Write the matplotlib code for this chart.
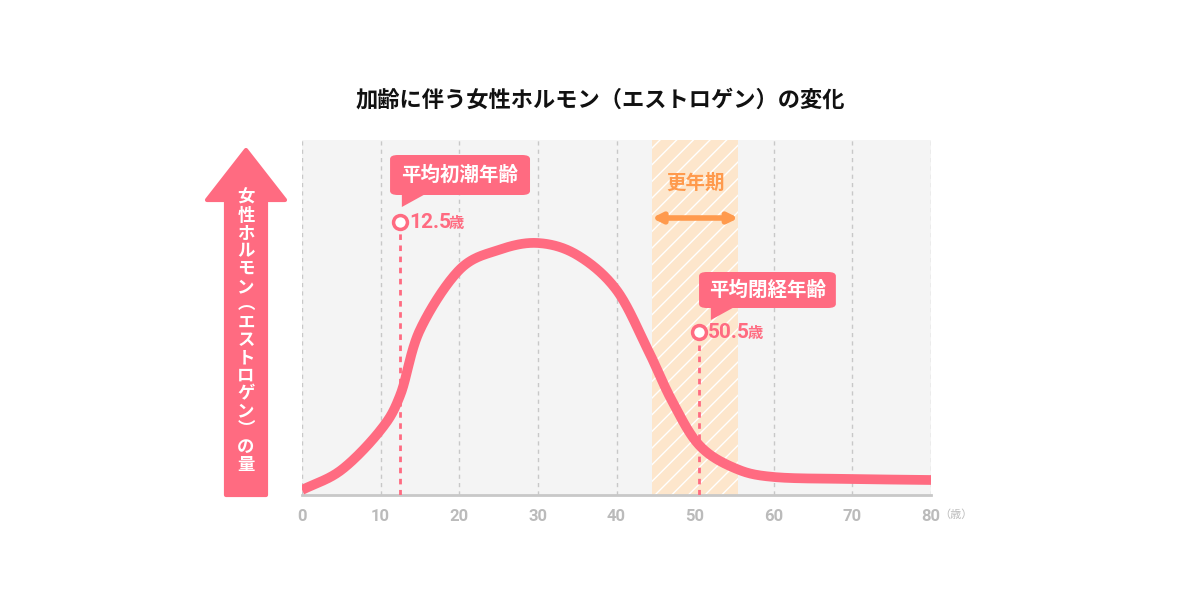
import matplotlib
matplotlib.use("Agg")
import matplotlib.pyplot as plt
import numpy as np
from matplotlib.patches import FancyArrow, FancyBboxPatch, Polygon

plt.rcParams["font.family"] = "Noto Sans CJK JP"

ages = [0, 5, 10, 12.5, 15, 20, 25, 30, 35, 40, 44, 47, 50.5, 55, 60, 70, 80]
levels = [5, 25, 65, 100, 165, 225, 245, 252, 240, 205, 145, 95, 50, 27, 18, 16, 15]
x_ticks = [0, 10, 20, 30, 40, 50, 60, 70, 80]
menarche_age = 12.5
menopause_age = 50.5
climacteric = (44.5, 55.5)

PINK = "#ff6b81"
ORANGE = "#ff9a4d"
GRAY = "#bbbbbb"

def catmull(xs, ys, n=30):
    xs = np.asarray(xs, float); ys = np.asarray(ys, float)
    px = np.concatenate([[2*xs[0]-xs[1]], xs, [2*xs[-1]-xs[-2]]])
    py = np.concatenate([[2*ys[0]-ys[1]], ys, [2*ys[-1]-ys[-2]]])
    ox, oy = [], []
    for i in range(1, len(px)-2):
        t = np.linspace(0, 1, n, endpoint=False)
        for arr, out in ((px, ox), (py, oy)):
            p0, p1, p2, p3 = arr[i-1], arr[i], arr[i+1], arr[i+2]
            out.extend(0.5*((2*p1) + (-p0+p2)*t + (2*p0-5*p1+4*p2-p3)*t**2 + (-p0+3*p1-3*p2+p3)*t**3))
    ox.append(xs[-1]); oy.append(ys[-1])
    return np.array(ox), np.array(oy)

fig = plt.figure(figsize=(12, 6), dpi=100)
ax = fig.add_axes([302/1200, 105/600, 629/1200, 355/600])
ax.set_facecolor("#f4f4f4")
ax.set_xlim(0, 80)
ax.set_ylim(0, 355)
for s in ["top", "right", "left"]:
    ax.spines[s].set_visible(False)
ax.spines["bottom"].set_color("#c8c8c8")
ax.spines["bottom"].set_linewidth(2)
ax.set_yticks([])
ax.set_xticks(x_ticks)
ax.set_xticklabels([str(t) for t in x_ticks], color=GRAY, fontsize=12, fontweight="bold",
                   fontfamily="Roboto")
ax.tick_params(axis="x", length=0, pad=10)
for t in x_ticks:
    ax.axvline(t, color="#c8c8c8", lw=1, ls=(0, (3, 3)), zorder=1)
ax.text(81, -20, "（歳）", color=GRAY, fontsize=8, va="center", ha="left", clip_on=False)

ax.axvspan(*climacteric, facecolor="#fde6cc", edgecolor="white", hatch="//", lw=0, zorder=1.5)

cx, cy = catmull(ages, levels)
ax.plot(cx, cy, color=PINK, lw=7, solid_capstyle="butt", zorder=3)

# climacteric label and arrow
mid = sum(climacteric) / 2
ax.text(mid, 312, "更年期", color=ORANGE, fontsize=14, fontweight="bold", ha="center", va="center")
ax.annotate("", xy=(climacteric[0], 277), xytext=(climacteric[1], 277),
            arrowprops=dict(arrowstyle="<|-|>", color=ORANGE, lw=4, mutation_scale=14,
                            shrinkA=0, shrinkB=0))

def callout(age, label, marker_y, box_x0, box_y0, box_w, box_h):
    ax.plot([age, age], [0, marker_y - 6], color=PINK, lw=2, ls=(0, (2, 2)), zorder=4)
    ax.plot(age, marker_y, "o", ms=10, mfc="white", mec=PINK, mew=2.5, zorder=5)
    ax.text(age + 1.1, marker_y, f"{age}", color=PINK, fontsize=15, fontweight="bold",
            va="center", ha="left", fontfamily="Roboto", zorder=5)
    ax.text(age + 6.2 if age < 20 else age + 6.2, marker_y - 1, "歳", color=PINK, fontsize=11,
            fontweight="bold", va="center", ha="left", zorder=5)
    box = FancyBboxPatch((box_x0, box_y0), box_w, box_h,
                         boxstyle="round,pad=0,rounding_size=1", mutation_aspect=4,
                         fc=PINK, ec="none", zorder=6)
    ax.add_patch(box)
    tail = Polygon([[box_x0 + 1.5, box_y0 + 1], [box_x0 + 4.5, box_y0 + 1],
                    [box_x0 + 1.5, box_y0 - 12]], closed=True, fc=PINK, ec="none", zorder=6)
    ax.add_patch(tail)
    ax.text(box_x0 + box_w/2, box_y0 + box_h/2, label, color="white", fontsize=14,
            fontweight="bold", ha="center", va="center", zorder=7)

callout(menarche_age, "平均初潮年齢", 273, 11.2, 300, 17.8, 40)
callout(menopause_age, "平均閉経年齢", 163, 50.5, 187, 17.4, 36)

# left arrow
arrow = FancyArrow(246, 105, 0, 345, width=40, head_width=78, head_length=50,
                   length_includes_head=True, fc=PINK, ec=PINK, lw=3, joinstyle="round",
                   transform=None)
fig.patches.append(arrow)
chars = list("女性ホルモン︵エストロゲン︶の量")
for i, ch in enumerate(chars):
    fig.text(246/1200, 1 - (198 + i*17.8)/600, ch, color="white", fontsize=12.5,
             fontweight="bold", ha="center", va="center")

fig.text(0.5, 1 - 100/600, "加齢に伴う女性ホルモン（エストロゲン）の変化", ha="center", va="center",
         fontsize=16, fontweight="bold", color="#111111")

fig.savefig("out.png", dpi=100, facecolor="white")
